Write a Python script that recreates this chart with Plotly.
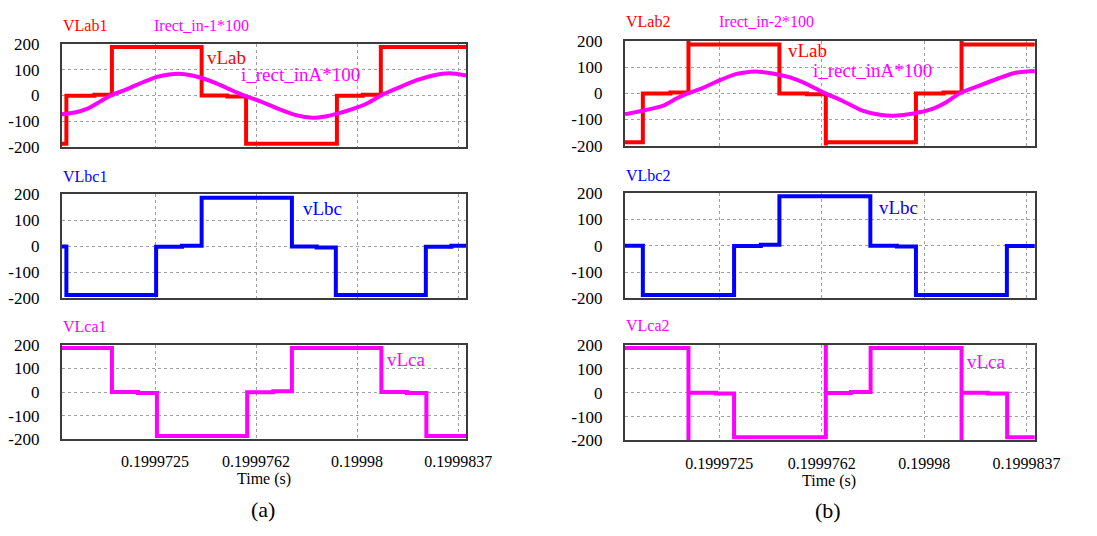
import plotly.graph_objects as go

# ---------------------------------------------------------------------------
# Data: time in microseconds after 0.19997 s, voltages in V, current*100
# ---------------------------------------------------------------------------
T_BASE = 0.19997          # s
T_START_US = -0.96
T_END_US = 14.055

tick_us = [2.5, 6.25, 10.0, 13.75]
tick_text = ["0.1999725", "0.1999762", "0.19998", "0.1999837"]
y_ticks = [-200, -100, 0, 100, 200]

# (a) step waveforms: switching instants (us) and the level held after each
vlab1_t = [T_START_US, -0.79, 0.25, 0.90, 4.23, 5.18, 5.88, 9.25, 10.21, 10.88]
vlab1_v = [-187, -1, 3, 187, 0, -4, -187, -1, 3, 187]

vlbc1_t = [T_START_US, -0.79, 2.54, 3.50, 4.23, 7.58, 8.50, 9.21, 12.55, 13.50]
vlbc1_v = [0, -187, -1, 3, 187, 0, -4, -187, -1, 3]

vlca1_t = [T_START_US, 0.90, 1.87, 2.57, 5.92, 6.89, 7.58, 10.90, 11.85, 12.57]
vlca1_v = [187, 0, -4, -187, -1, 3, 187, 0, -4, -187]

irect1_t = [-0.97, -0.485, -0.003, 0.48, 0.90, 1.33, 1.93, 2.54, 3.02, 3.38,
            3.87, 4.23, 4.71, 5.19, 5.68, 5.86, 6.41, 7.13, 7.73, 8.34,
            8.82, 9.31, 9.79, 10.40, 10.88, 11.48, 12.21, 12.81, 13.42, 14.06]
irect1_v = [-72.5, -66, -51, -22.5, 2.5, 19, 46, 71, 81, 84,
            77.5, 67.5, 50, 27.5, 5, -2.5, -22.5, -54, -76, -86,
            -81, -69, -54, -29, 0, 27.5, 59, 77.5, 86, 77.5]

# (b) step waveforms, with the commutation spikes
vlab2_t = [T_START_US, -0.30, 0.71, 1.37, 1.37, 4.70, 5.71, 6.40, 6.40, 9.70, 10.71, 11.37, 11.37]
vlab2_v = [-187, 0, 3, 200, 187, 0, -3, -200, -187, 0, 3, 200, 187]

vlbc2_t = [T_START_US, -0.30, 3.04, 4.02, 4.70, 8.03, 9.00, 9.70, 13.03]
vlbc2_v = [0, -187, -1, 3, 187, 0, -3, -187, -1]

vlca2_t = [T_START_US, 1.37, 1.37, 2.38, 3.04, 6.40, 6.40, 7.32, 8.04, 11.37, 11.37, 12.33, 13.04]
vlca2_v = [187, -200, 0, -3, -187, 200, -1, 3, 187, -200, 0, -3, -187]

irect2_t = [-0.95, -0.26, 0.45, 0.93, 1.34, 1.88, 2.48, 3.07, 3.79, 4.50,
            5.09, 5.69, 6.34, 7.00, 7.71, 8.43, 8.90, 9.62, 10.33, 10.81,
            11.29, 12.00, 12.71, 13.31, 13.90, 14.06]
irect2_v = [-79.5, -65, -46.5, -19.6, 0, 20.5, 48.7, 73, 84, 75.5,
            61, 36.6, 2, -28, -65, -83, -85.7, -77, -58.6, -34,
            0, 29, 57, 78, 85, 85]

RED = "#ff0000"
MAG = "#ff00ff"
BLUE = "#0000ff"
FONT = "Liberation Serif"

W, H = 1097, 536


def sec(us_list):
    return [T_BASE + u * 1e-6 for u in us_list]


def step(t_list, v_list):
    # hold the last level until the right edge of the window
    return sec(t_list + [T_END_US]), v_list + [v_list[-1]]


def px_x(px):
    return px / W


def px_y(py):
    return 1 - py / H


# panel boxes in pixels: (left, right, top, bottom)
panels = [
    (63.3, 477.7, 36.0, 143.3),    # a-top
    (63.3, 477.7, 192.3, 300.0),   # a-mid
    (63.3, 477.7, 348.3, 446.0),   # a-bottom
    (640.0, 1060.0, 33.3, 141.7),  # b-top
    (640.0, 1060.0, 190.7, 300.0), # b-mid
    (640.0, 1060.0, 348.3, 447.3), # b-bottom
]

fig = go.Figure()

layout_axes = {}
for i, (l, r, t, b) in enumerate(panels):
    n = "" if i == 0 else str(i + 1)
    bottom = i in (2, 5)
    layout_axes["xaxis" + n] = dict(
        domain=[px_x(l), px_x(r)],
        anchor="y" + n,
        range=[T_BASE + T_START_US * 1e-6, T_BASE + T_END_US * 1e-6],
        tickvals=sec(tick_us),
        ticktext=tick_text,
        showticklabels=bottom,
        ticks="outside", ticklen=7, tickcolor="rgba(0,0,0,0)",
        tickfont=dict(family=FONT, size=16, color="#000"),
        showline=True, mirror=True, linecolor="#3c3c3c", linewidth=2,
        showgrid=True, gridcolor="#a0a0a0", griddash="dot", gridwidth=1,
        zeroline=False, fixedrange=True,
    )
    layout_axes["yaxis" + n] = dict(
        domain=[px_y(b), px_y(t)],
        anchor="x" + n,
        range=[-200, 200],
        tickvals=y_ticks,
        ticktext=[str(v) for v in y_ticks],
        ticks="outside", ticklen=17, tickcolor="rgba(0,0,0,0)",
        tickfont=dict(family=FONT, size=17, color="#000"),
        showline=True, mirror=True, linecolor="#3c3c3c", linewidth=2,
        showgrid=True, gridcolor="#a0a0a0", griddash="dot", gridwidth=1,
        zeroline=False, fixedrange=True,
    )


def add_step(t_list, v_list, color, k):
    x, y = step(t_list, v_list)
    n = "" if k == 0 else str(k + 1)
    fig.add_trace(go.Scatter(x=x, y=y, mode="lines", line_shape="hv",
                             line=dict(color=color, width=4),
                             xaxis="x" + n, yaxis="y" + n, showlegend=False,
                             hoverinfo="skip"))


def add_curve(t_list, v_list, color, k):
    n = "" if k == 0 else str(k + 1)
    fig.add_trace(go.Scatter(x=sec(t_list), y=v_list, mode="lines",
                             line=dict(color=color, width=4, shape="spline", smoothing=0.6),
                             xaxis="x" + n, yaxis="y" + n, showlegend=False,
                             hoverinfo="skip"))


add_step(vlab1_t, vlab1_v, RED, 0)
add_curve(irect1_t, irect1_v, MAG, 0)
add_step(vlbc1_t, vlbc1_v, BLUE, 1)
add_step(vlca1_t, vlca1_v, MAG, 2)
add_step(vlab2_t, vlab2_v, RED, 3)
add_curve(irect2_t, irect2_v, MAG, 3)
add_step(vlbc2_t, vlbc2_v, BLUE, 4)
add_step(vlca2_t, vlca2_v, MAG, 5)

# text labels: (text, x px, y px, colour, size, x-anchor)
labels = [
    ("VLab1", 63, 16.7, RED, 16, "left"),
    ("Irect_in-1*100", 157, 16.7, MAG, 16, "left"),
    ("VLbc1", 63, 173.3, BLUE, 16, "left"),
    ("VLca1", 63, 329, MAG, 16, "left"),
    ("VLab2", 640, 13.3, RED, 16, "left"),
    ("Irect_in-2*100", 735.7, 13.3, MAG, 16, "left"),
    ("VLbc2", 640, 172.7, BLUE, 16, "left"),
    ("VLca2", 640, 328.3, MAG, 16, "left"),
    ("vLab", 210.5, 50, RED, 19, "left"),
    ("i_rect_inA*100", 246, 68, MAG, 19, "left"),
    ("vLbc", 309, 207, BLUE, 19, "left"),
    ("vLca", 395.5, 363.3, MAG, 19, "left"),
    ("vLab", 806, 43.3, RED, 19, "left"),
    ("i_rect_inA*100", 832, 64, MAG, 19, "left"),
    ("vLbc", 899, 206, BLUE, 19, "left"),
    ("vLca", 989, 365, MAG, 19, "left"),
    ("Time (s)", 270, 487, "#000", 16, "center"),
    ("Time (s)", 849, 489, "#000", 16, "center"),
    ("(a)", 269, 519, "#000", 22, "center"),
    ("(b)", 848, 520, "#000", 22, "center"),
]

annotations = [
    dict(text=txt, x=px_x(x), y=px_y(y), xref="paper", yref="paper",
         xanchor=anc, yanchor="middle", showarrow=False, borderpad=0,
         font=dict(family=FONT, size=sz, color=col))
    for txt, x, y, col, sz, anc in labels
]

fig.update_layout(
    width=W, height=H,
    margin=dict(l=0, r=0, t=0, b=0),
    paper_bgcolor="white", plot_bgcolor="white",
    showlegend=False,
    annotations=annotations,
    **layout_axes,
)

# the page body carries a default margin; remove it so the figure fills the window
fig.write_html(
    "out.html",
    post_script="document.body.style.margin='0';document.body.style.overflow='hidden';",
)
